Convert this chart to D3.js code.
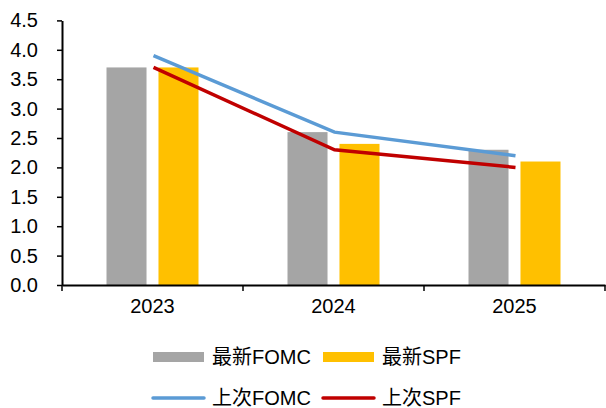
<!DOCTYPE html>
<html>
<head>
<meta charset="utf-8">
<script src="https://cdn.jsdelivr.net/npm/d3@7"></script>
<style>
  body { margin: 0; background: #fff; }
  text { font-family: 'Liberation Sans', Arial, 'Noto Sans CJK SC', sans-serif; }
</style>
</head>
<body>
<div id="graf"></div>
<script>
// Datos
years    = ['2023', '2024', '2025']
fomcNew  = [3.7, 2.6, 2.3]
spfNew   = [3.7, 2.4, 2.1]
fomcPrev = [3.9, 2.6, 2.2]
spfPrev  = [3.7, 2.3, 2.0]
yTicks   = [0, 0.5, 1, 1.5, 2, 2.5, 3, 3.5, 4, 4.5]

barSeries  = [
  { name: '最新FOMC', values: fomcNew, color: '#A5A5A5' },
  { name: '最新SPF',  values: spfNew,  color: '#FFC000' }
]
lineSeries = [
  { name: '上次FOMC', values: fomcPrev, color: '#5B9BD5' },
  { name: '上次SPF',  values: spfPrev,  color: '#C00000' }
]

ancho_total = 606
alto_total  = 408
margins = { top: 20.4, left: 62, right: 1, bottom: 123 }
ancho = ancho_total - margins.left - margins.right
alto  = alto_total - margins.top - margins.bottom

svg = d3.select('#graf').append('svg')
        .attr('width', ancho_total)
        .attr('height', alto_total)

g = svg.append('g')
        .attr('transform', `translate(${ margins.left }, ${ margins.top })`)

// Escaladores
x0 = d3.scaleBand().domain(years).range([0, ancho])
bw = x0.bandwidth()
x1 = d3.scaleBand().domain(barSeries.map(d => d.name))
        .range([(bw - 92) / 2, (bw + 92) / 2])
        .paddingInner(0.23)
y  = d3.scaleLinear().domain([0, 4.5]).range([alto, 0])

// Barras
barSeries.forEach(s => {
  g.selectAll(null)
    .data(years)
    .enter()
    .append('rect')
      .attr('x', (d, i) => x0(d) + x1(s.name))
      .attr('y', (d, i) => y(s.values[i]))
      .attr('width', x1.bandwidth())
      .attr('height', (d, i) => alto - y(s.values[i]))
      .attr('fill', s.color)
})

// Lineas
line = d3.line()
  .x((d, i) => x0(years[i]) + bw / 2 + 1)
  .y(d => y(d))

lineSeries.forEach(s => {
  g.append('path')
    .datum(s.values)
    .attr('d', line)
    .attr('fill', 'none')
    .attr('stroke', s.color)
    .attr('stroke-width', 3.5)
})

// Ejes
yAxis = d3.axisLeft(y)
          .tickValues(yTicks)
          .tickFormat(d3.format('.1f'))
          .tickSizeInner(5)
          .tickSizeOuter(0)
          .tickPadding(19)
yG = g.append('g').call(yAxis)
yG.select('.domain').attr('stroke-width', 2)
yG.selectAll('.tick line').attr('stroke-width', 1.5)
yG.selectAll('text').attr('font-size', '20px').attr('fill', '#000')
  .attr('font-family', "'Liberation Sans', Arial, sans-serif")

xAxis = d3.axisBottom(x0).tickSize(0).tickPadding(14)
xG = g.append('g')
      .attr('transform', `translate(0,${ alto })`)
      .call(xAxis)
xG.select('.domain').attr('stroke-width', 2)
xG.selectAll('text').attr('font-size', '20px').attr('fill', '#000')
  .attr('font-family', "'Liberation Sans', Arial, sans-serif")

// marcas entre categorias
bordes = years.map(d => x0(d)).concat([ancho])
xG.selectAll('.borde')
  .data(bordes)
  .enter()
  .append('line')
    .attr('class', 'borde')
    .attr('x1', d => d)
    .attr('x2', d => d)
    .attr('y1', 0)
    .attr('y2', 6)
    .attr('stroke', '#000')
    .attr('stroke-width', 1.5)

// Leyenda
legX = [153, 323]
legRows = [357, 398]
leg = svg.append('g')

barSeries.forEach((s, i) => {
  leg.append('rect')
    .attr('x', legX[i])
    .attr('y', legRows[0] - 5)
    .attr('width', 51)
    .attr('height', 10)
    .attr('fill', s.color)
  leg.append('text')
    .attr('x', legX[i] + 59)
    .attr('y', legRows[0] + 7)
    .attr('font-size', '20px')
    .attr('fill', '#000')
    .text(s.name)
})

lineSeries.forEach((s, i) => {
  leg.append('line')
    .attr('x1', legX[i])
    .attr('x2', legX[i] + 51)
    .attr('y1', legRows[1])
    .attr('y2', legRows[1])
    .attr('stroke', s.color)
    .attr('stroke-width', 3.5)
    .attr('stroke-linecap', 'round')
  leg.append('text')
    .attr('x', legX[i] + 59)
    .attr('y', legRows[1] + 7)
    .attr('font-size', '20px')
    .attr('fill', '#000')
    .text(s.name)
})
</script>
</body>
</html>
